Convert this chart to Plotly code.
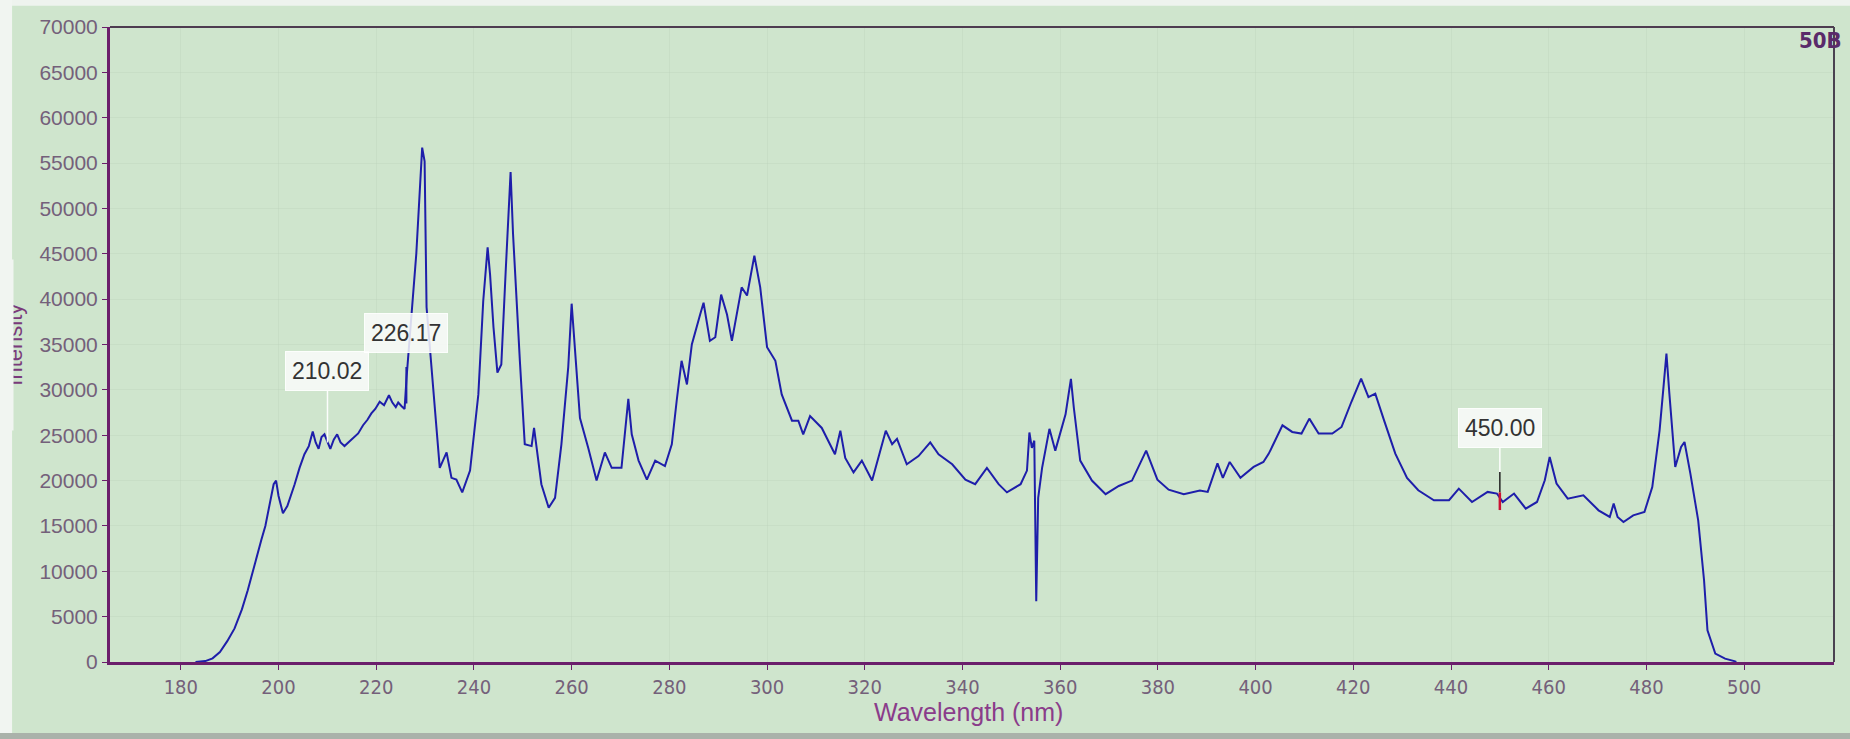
import plotly.graph_objects as go

# ---- data ----
wavelength = [
    183.0, 185.0, 186.5, 188.0, 189.5, 191.0, 192.5, 193.7, 195.0, 195.6, 196.5, 197.3, 198.2, 199.0, 199.5,
    200.0, 200.9, 201.8, 203.3, 204.3, 205.3, 206.2, 207.0, 207.6, 208.2, 208.8, 209.4, 210.0, 210.6, 211.3,
    212.0, 212.7, 213.5, 214.5, 215.4, 216.3, 217.3, 218.2, 219.0, 219.8, 220.7, 221.6, 222.6, 223.3, 224.0,
    224.5, 225.2, 225.8, 226.2, 228.2, 229.4, 229.9, 230.3, 231.3, 232.0, 233.0, 234.4, 235.4, 236.4, 237.6,
    239.2, 240.9, 241.9, 242.8, 243.3, 244.0, 244.8, 245.6, 246.5, 247.5, 248.0, 248.4, 249.4, 250.4, 251.8,
    252.3, 252.8, 253.8, 255.3, 256.6, 257.9, 259.3, 260.0, 260.7, 261.7, 263.4, 265.1, 266.8, 268.2, 270.2,
    271.6, 272.3, 273.7, 275.4, 277.1, 279.1, 280.5, 281.5, 282.5, 283.6, 284.6, 286.3, 287.0, 288.3, 289.4,
    290.6, 291.8, 292.8, 294.8, 295.9, 297.4, 298.6, 300.0, 301.7, 303.0, 305.1, 306.4, 307.4, 308.8, 311.2,
    313.9, 315.0, 316.0, 317.7, 319.4, 321.5, 324.3, 325.6, 326.6, 328.6, 331.0, 333.4, 335.1, 337.9, 340.6,
    342.6, 345.0, 347.4, 349.1, 351.9, 353.2, 353.7, 354.2, 354.7, 355.1, 355.5, 356.3, 357.8, 359.0, 361.1,
    362.2, 362.8, 364.1, 366.5, 369.3, 372.0, 374.7, 377.6, 379.9, 382.2, 385.3, 388.6, 390.2, 392.2, 393.3,
    394.7, 396.9, 399.6, 401.6, 402.7, 405.5, 407.5, 409.4, 411.0, 412.9, 415.7, 417.6, 419.6, 421.6, 423.1,
    424.5, 426.3, 428.6, 431.0, 433.3, 436.5, 439.6, 441.6, 444.3, 447.5, 449.4, 450.6, 452.9, 455.3, 457.6,
    459.2, 460.2, 461.6, 463.9, 467.1, 470.2, 472.5, 473.3, 474.1, 475.3, 477.3, 479.6, 481.2, 482.7, 483.5,
    484.1, 484.7, 485.9, 487.1, 487.8, 489.0, 490.6, 491.8, 492.5, 494.1, 496.1, 498.0, 498.4,
]
intensity = [
    0, 100, 400, 1100, 2300, 3700, 5800, 7900, 10500, 11800, 13500, 15000, 17500, 19600, 20000,
    18300, 16400, 17200, 19600, 21400, 22900, 23800, 25400, 24200, 23500, 24800, 25100, 24200, 23500, 24500,
    25100, 24200, 23800, 24300, 24800, 25200, 26100, 26700, 27400, 27900, 28700, 28300, 29400, 28600, 28100,
    28600, 28200, 27900, 31300, 45000, 56700, 55200, 39100, 32500, 28000, 21400, 23100, 20300, 20100, 18700,
    21100, 29500, 39800, 45700, 42700, 36900, 31900, 32800, 43100, 54000, 47200, 42700, 33200, 24000, 23800,
    25800, 23600, 19600, 17000, 18100, 24000, 32500, 39500, 34700, 26900, 23600, 20000, 23100, 21400, 21400,
    29000, 25100, 22200, 20100, 22200, 21600, 24000, 28800, 33200, 30600, 35000, 38300, 39600, 35400, 35800,
    40500, 38300, 35400, 41300, 40400, 44800, 41300, 34700, 33200, 29500, 26600, 26600, 25100, 27100, 25800,
    22900, 25500, 22500, 20900, 22200, 20000, 25500, 24000, 24600, 21800, 22700, 24200, 22900, 21800, 20100,
    19600, 21400, 19600, 18700, 19600, 21100, 25300, 23600, 24400, 6700, 18100, 21400, 25700, 23300, 27300,
    31200, 28000, 22200, 20000, 18500, 19400, 20000, 23300, 20100, 19000, 18500, 18900, 18750, 21900, 20300,
    22050, 20300, 21500, 22050, 22970, 26090, 25360, 25180, 26830, 25180, 25180, 25910, 28660, 31240, 29210,
    29590, 26640, 22970, 20300, 18930, 17830, 17830, 19110, 17640, 18750, 18570, 17640, 18570, 16910, 17640,
    20030, 22600, 19670, 18010, 18380, 16720, 15990, 17460, 15990, 15430, 16170, 16540, 19290, 25540, 30320,
    34000, 29590, 21500, 23700, 24250, 20770, 15620, 9010, 3490, 930, 370, 100, 0,
]

x_ticks = [180, 200, 220, 240, 260, 280, 300, 320, 340, 360, 380, 400, 420, 440, 460, 480, 500]
y_ticks = [0, 5000, 10000, 15000, 20000, 25000, 30000, 35000, 40000, 45000, 50000, 55000, 60000, 65000, 70000]

# cursor markers (wavelength, intensity at curve) and labels
cursor_wl = [210.02, 226.17, 450.00]
cursor_y = [24200, 28500, 20950]
cursor_text = ["210.02", "226.17", "450.00"]
cursor_box_dy = [-71, -70, -44]

marker450_x = [450.0, 450.0]
marker450_black = [20950, 18700]
marker450_red = [18700, 16750]

GREEN = "#cfe5cd"
PURPLE = "#6b1f6b"
TICKC = "#74607a"

fig = go.Figure()
fig.add_trace(go.Scatter(x=wavelength, y=intensity, mode="lines",
                         line=dict(color="#1e1eaa", width=2), hoverinfo="skip", showlegend=False))
fig.add_trace(go.Scatter(x=marker450_x, y=marker450_black, mode="lines",
                         line=dict(color="#222222", width=1.5), showlegend=False, hoverinfo="skip"))
fig.add_trace(go.Scatter(x=marker450_x, y=marker450_red, mode="lines",
                         line=dict(color="#cc1133", width=2.5), showlegend=False, hoverinfo="skip"))

annotations = []
for wl, yv, txt, dy in zip(cursor_wl, cursor_y, cursor_text, cursor_box_dy):
    is226 = txt == "226.17"
    annotations.append(dict(
        x=wl, y=yv, xref="x", yref="y", text=txt, showarrow=True, arrowhead=0,
        arrowwidth=2 if is226 else 1.5,
        arrowcolor="#1e1eaa" if is226 else "rgba(255,255,255,0.95)",
        startstandoff=14 if is226 else 0,
        ax=0, ay=dy, font=dict(family="Liberation Sans, Arial, sans-serif", size=23, color="#333333"),
        bgcolor="rgba(250,252,250,0.85)", bordercolor="rgba(255,255,255,0.9)", borderwidth=1, borderpad=6,
    ))

# y-axis title (partially clipped by the window edge in the reference)
annotations.append(dict(x=-0.0556, y=0.5, xref="paper", yref="paper", text="Intensity", textangle=-90,
                        showarrow=False, xanchor="center", yanchor="middle",
                        font=dict(family="Liberation Sans, Arial, sans-serif", size=22, color="#7a3a7a")))
annotations.append(dict(x=-0.0638, y=0.5, xref="paper", yref="paper", text=" ", showarrow=False,
                        xanchor="left", yanchor="middle", width=12, height=170, bgcolor="#f1f5f1", borderpad=0))
# x-axis title
annotations.append(dict(x=0.4977, y=-0.078, xref="paper", yref="paper", text="Wavelength (nm)",
                        showarrow=False, xanchor="center", yanchor="middle",
                        font=dict(family="Liberation Sans, Arial, sans-serif", size=25, color="#8a3c8a")))
# top-right tag
annotations.append(dict(x=0.992, y=0.978, xref="paper", yref="paper", text="<b>50B</b>",
                        showarrow=False, xanchor="center", yanchor="middle",
                        font=dict(family="DejaVu Sans Condensed, Liberation Sans, Arial, sans-serif", size=22, color="#5a2a6a")))

shapes = [
    # window frame strips
    dict(type="rect", xref="paper", yref="paper", x0=-0.07, x1=1.02, y0=1.0335, y1=1.05,
         fillcolor="#eef3ee", line=dict(width=0), layer="below"),
    dict(type="rect", xref="paper", yref="paper", x0=-0.07, x1=-0.0568, y0=-0.13, y1=1.05,
         fillcolor="#f1f5f1", line=dict(width=0), layer="below"),
    dict(type="rect", xref="paper", yref="paper", x0=-0.07, x1=1.02, y0=-0.13, y1=-0.112,
         fillcolor="#aab2aa", line=dict(width=0), layer="below"),
    # top and right frame lines of the plot box
    dict(type="line", xref="paper", yref="paper", x0=0, x1=1, y0=1, y1=1,
         line=dict(color="#4e3c50", width=2), layer="above"),
    dict(type="line", xref="paper", yref="paper", x0=1, x1=1, y0=0, y1=1,
         line=dict(color="#4a4250", width=2), layer="above"),
]

fig.update_layout(
    width=1850, height=739,
    margin=dict(l=110, r=16, t=27, b=77),
    paper_bgcolor=GREEN, plot_bgcolor=GREEN,
    showlegend=False,
    annotations=annotations, shapes=shapes,
    xaxis=dict(range=[165.5, 518.4], tickmode="array", tickvals=x_ticks,
               ticks="outside", ticklen=5, tickwidth=1, tickcolor=PURPLE,
               showline=True, linecolor=PURPLE, linewidth=3, mirror=False,
               showgrid=True, gridcolor="rgba(185,210,185,0.35)", gridwidth=1, zeroline=False,
               tickfont=dict(family="DejaVu Sans Condensed, Liberation Sans Narrow, Liberation Sans, sans-serif",
                             size=20, color=TICKC)),
    yaxis=dict(range=[0, 70000], tickmode="array", tickvals=y_ticks, tickformat="d",
               ticks="outside", ticklen=5, tickwidth=1, tickcolor=PURPLE,
               showline=True, linecolor=PURPLE, linewidth=3, mirror=False,
               showgrid=True, gridcolor="rgba(185,210,185,0.35)", gridwidth=1, zeroline=False,
               tickfont=dict(family="Liberation Sans, Arial, sans-serif", size=21, color=TICKC)),
)

fig.write_html("out.html", config={"displayModeBar": False},
               post_script="document.body.style.margin='0';document.body.style.padding='0';"
                           "document.documentElement.style.margin='0';")
